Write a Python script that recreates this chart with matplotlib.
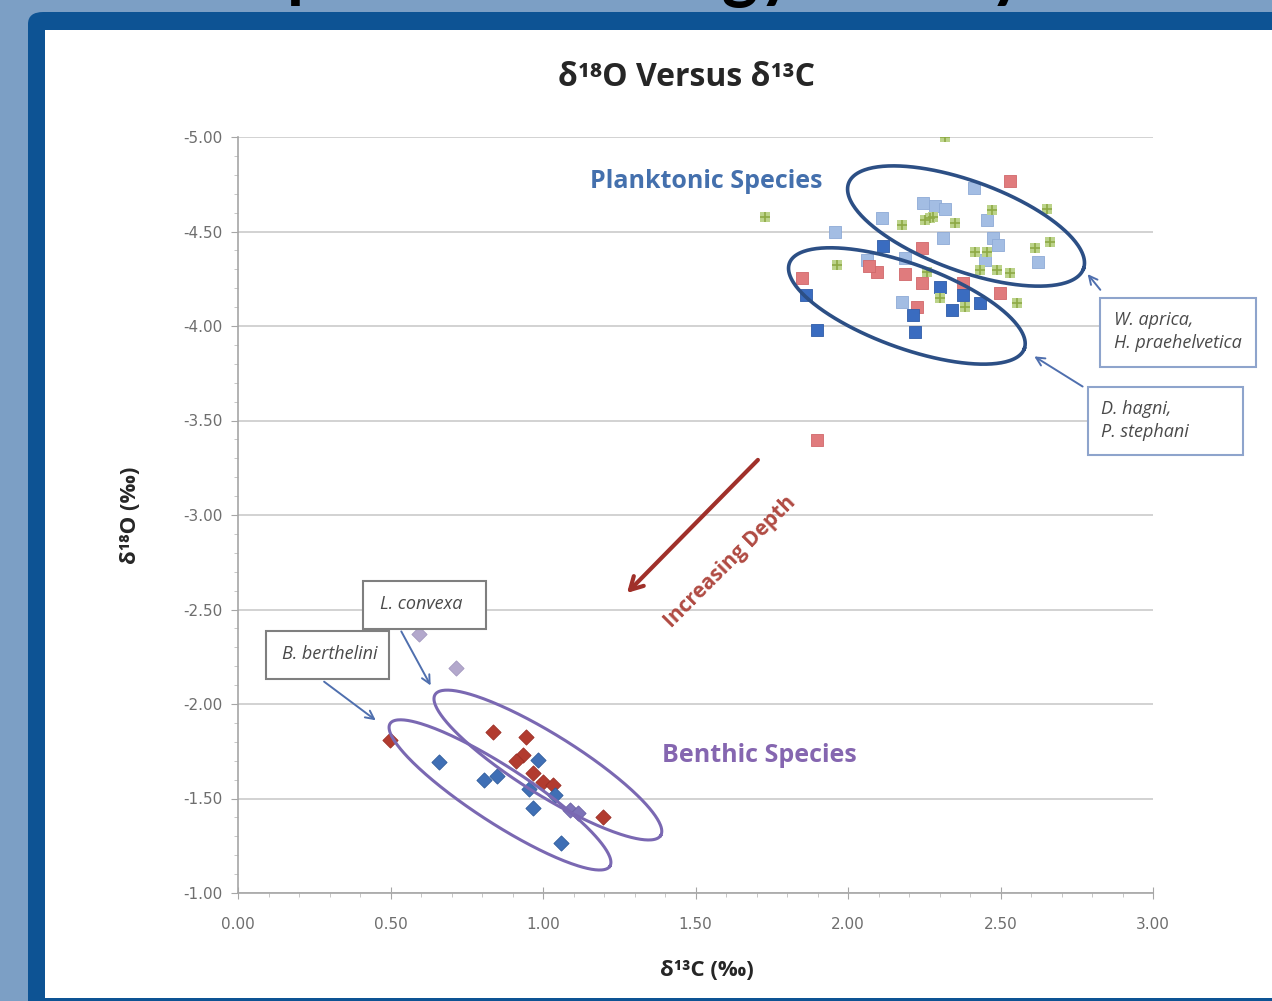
import numpy as np
import matplotlib.pyplot as plt
from matplotlib.patches import Rectangle, FancyBboxPatch
from matplotlib.ticker import MultipleLocator, FormatStrFormatter

# planktonic species (squares), d13C and d18O in permil
green_x = [2.318, 1.728, 2.177, 2.252, 2.269, 2.279, 2.351, 2.472, 2.652, 1.964,
           2.416, 2.456, 2.613, 2.662, 2.433, 2.489, 2.531, 2.259, 2.302, 2.384, 2.554]
green_y = [-5.000, -4.577, -4.534, -4.561, -4.571, -4.577, -4.545, -4.614, -4.619, -4.323,
           -4.392, -4.392, -4.413, -4.444, -4.296, -4.296, -4.280, -4.286, -4.148, -4.101, -4.122]

ltblue_x = [2.413, 2.246, 2.285, 2.318, 2.111, 1.957, 2.456, 2.311, 2.475, 2.492,
            2.623, 2.449, 2.062, 2.187, 2.177]
ltblue_y = [-4.730, -4.651, -4.635, -4.619, -4.571, -4.497, -4.561, -4.466, -4.466, -4.429,
            -4.339, -4.349, -4.349, -4.360, -4.127]

red_x = [2.531, 2.243, 1.849, 2.095, 2.070, 2.187, 2.243, 2.226, 2.377, 2.498, 1.898]
red_y = [-4.767, -4.413, -4.254, -4.286, -4.320, -4.275, -4.228, -4.101, -4.228, -4.175, -3.397]

dkblue_x = [2.115, 1.862, 1.898, 2.213, 2.302, 2.220, 2.341, 2.377, 2.433]
dkblue_y = [-4.423, -4.164, -3.979, -4.058, -4.206, -3.968, -4.085, -4.164, -4.122]

# benthic species (diamonds)
bent_red_x = [0.498, 0.836, 0.944, 0.934, 0.911, 0.967, 1.000, 1.033, 1.197]
bent_red_y = [-1.810, -1.852, -1.825, -1.730, -1.698, -1.635, -1.587, -1.571, -1.402]

bent_blue_x = [0.659, 0.807, 0.849, 0.984, 0.954, 0.967, 1.039, 1.059]
bent_blue_y = [-1.693, -1.598, -1.619, -1.704, -1.550, -1.450, -1.519, -1.265]

bent_purple_x = [1.089, 1.115]
bent_purple_y = [-1.439, -1.423]

bent_lav_x = [0.593, 0.715]
bent_lav_y = [-2.370, -2.190]

W, H = 1272, 1001
fig = plt.figure(figsize=(W / 100, H / 100), dpi=100)
fig.patch.set_facecolor('#7c9fc5')

# slide title, only the descenders peek out above the frame
fig.text(130 / W, 1 + 6 / H, 'Isotope Paleoecology Survey', ha='left', va='baseline',
         fontsize=50, weight='bold', family=['Lato', 'DejaVu Sans'], color='black', zorder=0)

fig.patches.append(FancyBboxPatch((28 / W, -0.05), 1.2, 1.05 - 12 / H,
                                  boxstyle='round,pad=0,rounding_size=0.012',
                                  transform=fig.transFigure, fc='#0d5394', ec='none', zorder=1))
fig.patches.append(Rectangle((45 / W, 3 / H), 1.0, (H - 33) / H,
                             transform=fig.transFigure, fc='white', ec='none', zorder=2))

ax = fig.add_axes([238 / W, 108 / H, 915 / W, 756 / H])
ax.set_facecolor('none')
ax.set_zorder(3)

ax.set_xlim(0, 3)
ax.set_ylim(-1, -5)

ax.scatter(ltblue_x, ltblue_y, marker='s', s=66, c='#a3bde3', edgecolors='#8eaad6', lw=0.6, zorder=3)
ax.scatter(red_x, red_y, marker='s', s=66, c='#e07b7d', edgecolors='#d0686b', lw=0.6, zorder=3)
ax.scatter(dkblue_x, dkblue_y, marker='s', s=66, c='#3a6cc0', edgecolors='#2f5ca8', lw=0.6, zorder=3)
ax.scatter(green_x, green_y, marker='s', s=48, c='#bcd38a', edgecolors='none', zorder=4)
ax.scatter(green_x, green_y, marker='+', s=42, c='#8eaa45', lw=1.2, zorder=4)

ax.scatter(bent_lav_x, bent_lav_y, marker='D', s=60, c='#b3a8cc', edgecolors='#a398c0', lw=0.6, zorder=3)
ax.scatter(bent_red_x, bent_red_y, marker='D', s=60, c='#b23b2f', edgecolors='#9b2f25', lw=0.6, zorder=3)
ax.scatter(bent_blue_x, bent_blue_y, marker='D', s=60, c='#3f6fb5', edgecolors='#2f5c9c', lw=0.6, zorder=3)
ax.scatter(bent_purple_x, bent_purple_y, marker='D', s=60, c='#7d72b8', edgecolors='#6a60a5', lw=0.6, zorder=3)

# axes styling
ax.yaxis.set_major_locator(MultipleLocator(0.5))
ax.yaxis.set_minor_locator(MultipleLocator(0.1))
ax.xaxis.set_major_locator(MultipleLocator(0.5))
ax.xaxis.set_minor_locator(MultipleLocator(0.1))
ax.xaxis.set_major_formatter(FormatStrFormatter('%.2f'))
ax.yaxis.set_major_formatter(FormatStrFormatter('%.2f'))
for s in ['top', 'right']:
    ax.spines[s].set_visible(False)
for s in ['left', 'bottom']:
    ax.spines[s].set_color('#a6a6a6')
    ax.spines[s].set_linewidth(1.2)
ax.grid(axis='y', which='major', color='#cfcfcf', lw=1.3, zorder=0)
ax.set_axisbelow(True)
ax.tick_params(axis='y', which='major', direction='out', length=5, color='#a6a6a6',
               labelsize=11, labelcolor='#6e6e6e', pad=6)
ax.tick_params(axis='y', which='minor', direction='out', length=3, color='#bdbdbd')
ax.tick_params(axis='x', which='major', direction='inout', length=8, color='#a6a6a6',
               labelsize=11, labelcolor='#6e6e6e', pad=13)
ax.tick_params(axis='x', which='minor', direction='out', length=3, color='#bdbdbd')

txt_fam = ['Open Sans', 'DejaVu Sans']
fig.text(686 / W, 1 - 77 / H, 'δ¹⁸O Versus δ¹³C', ha='center', va='center',
         fontsize=23, weight='bold', family=txt_fam, color='#262626', zorder=5)
fig.text(130 / W, 1 - 515 / H, 'δ¹⁸O (‰)', ha='center', va='center', rotation=90,
         fontsize=16, weight='bold', family=txt_fam, color='#262626', zorder=5)
fig.text(707 / W, 1 - 970 / H, 'δ¹³C (‰)', ha='center', va='center',
         fontsize=16, weight='bold', family=txt_fam, color='#262626', zorder=5)


def draw_ellipse(cx, cy, a_px, b_px, ang, color, lw):
    # ellipse given in screen pixels, placed at a data centre
    sx = ax.bbox.width / 3.0
    sy = ax.bbox.height / 4.0
    t = np.linspace(0, 2 * np.pi, 300)
    th = np.deg2rad(ang)
    dx = a_px * np.cos(t) * np.cos(th) - b_px * np.sin(t) * np.sin(th)
    dy = a_px * np.cos(t) * np.sin(th) + b_px * np.sin(t) * np.cos(th)
    ax.plot(cx + dx / sx, cy - dy / sy, color=color, lw=lw, zorder=5)


draw_ellipse(2.387, -4.529, 125, 45, -20, '#2c4f85', 2.6)
draw_ellipse(2.193, -4.106, 125, 42, -20, '#2c4f85', 2.6)
draw_ellipse(0.859, -1.519, 131, 28, -33, '#7a68b2', 2.2)
draw_ellipse(1.016, -1.677, 133, 30, -32, '#7a68b2', 2.2)

lab_fam = ['Open Sans', 'DejaVu Sans']
ax.text(1.534, -4.762, 'Planktonic Species', ha='center', va='center', fontsize=18,
        weight='bold', color='#4470ad', family=lab_fam, zorder=6)
ax.text(1.711, -1.730, 'Benthic Species', ha='center', va='center', fontsize=18,
        weight='bold', color='#8566b0', family=lab_fam, zorder=6)

# increasing depth arrow
ax.annotate('', xy=(1.269, -2.577), xytext=(1.711, -3.302),
            arrowprops=dict(arrowstyle='->,head_length=0.9,head_width=0.5', color='#a0302a', lw=3),
            zorder=6)
ax.text(1.613, -2.751, 'Increasing Depth', ha='center', va='center', rotation=45,
        fontsize=15, weight='bold', color='#b04a42', family=lab_fam, zorder=6)

# species label boxes
boxes = [
    (2.826, -3.783, 3.338, -4.148, 2.872, -3.970, 'W. aprica,\nH. praehelvetica', 'left', '#8ea4cc'),
    (2.787, -3.317, 3.295, -3.677, 2.830, -3.500, 'D. hagni,\nP. stephani', 'left', '#8ea4cc'),
    (0.410, -2.397, 0.813, -2.651, 0.600, -2.530, 'L. convexa', 'center', '#7f7f7f'),
    (0.092, -2.132, 0.495, -2.386, 0.302, -2.265, 'B. berthelini', 'center', '#7f7f7f'),
]
for x0, y0, x1, y1, tx, ty, lab, ha, ec in boxes:
    ax.add_patch(Rectangle((x0, y0), x1 - x0, y1 - y0, fc='white', ec=ec, lw=1.5,
                           clip_on=False, zorder=7))
    ax.text(tx, ty, lab, ha=ha, va='center', fontsize=13, style='italic', color='#4a4a4a',
            family=['Open Sans', 'DejaVu Sans'], linespacing=1.35, clip_on=False, zorder=8)

arrows = [
    ((2.833, -4.180), (2.780, -4.286)),
    ((2.777, -3.672), (2.603, -3.847)),
    ((0.531, -2.397), (0.636, -2.085)),
    ((0.275, -2.127), (0.459, -1.905)),
]
for start, end in arrows:
    ax.annotate('', xy=end, xytext=start, annotation_clip=False,
                arrowprops=dict(arrowstyle='->,head_length=0.6,head_width=0.3',
                                color='#4f6fae', lw=1.4), zorder=8)

fig.savefig('out.png', dpi=100, facecolor=fig.get_facecolor())
